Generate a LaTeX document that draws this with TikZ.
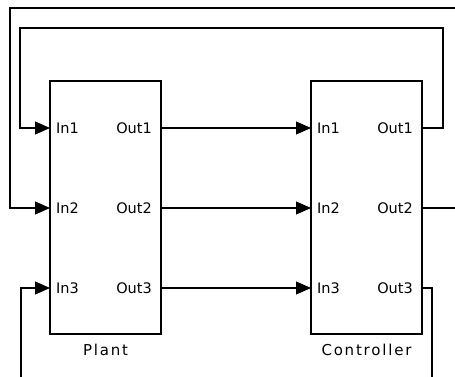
\documentclass[tikz,border=0pt]{standalone}
\usepackage{fontspec}
\setsansfont{DejaVu Sans}
\newfontfamily\portfont{DejaVu Sans}
\newfontfamily\namefont[LetterSpace=12]{DejaVu Sans}
\usetikzlibrary{arrows.meta}

\tikzset{
  block/.style={draw, line width=1.2pt, minimum width=111pt, minimum height=253pt,
    inner sep=0pt, outer sep=0pt},
  port/.style={font=\portfont\fontsize{14.5}{16}\selectfont, inner sep=0pt},
  blockname/.style={font=\namefont\fontsize{15}{17}\selectfont, inner sep=0pt},
  wire/.style={line width=1.1pt},
  signal/.style={wire, -{Triangle[length=15pt,width=13pt]}}
}

\begin{document}
\begin{tikzpicture}[x=1pt,y=-1pt]
  \path[use as bounding box] (0,0) rectangle (455,377);

  % Blocks
  \node[block] (plant) at (105.5,207.5) {};
  \node[block] (ctrl) at (366.5,207.5) {};
  \node[blockname] (plant-name) at (105.5,350) {Plant};
  \node[blockname] (ctrl-name) at (366.5,350) {Controller};

  % Ports
  \foreach \i/\y in {1/128,2/208,3/288}{
    \coordinate (p-in\i) at (plant.west |- 0,\y);
    \coordinate (p-out\i) at (plant.east |- 0,\y);
    \coordinate (c-in\i) at (ctrl.west |- 0,\y);
    \coordinate (c-out\i) at (ctrl.east |- 0,\y);
    \node[port, anchor=west] (p-in\i-lab) at ([xshift=6pt]p-in\i) {In\i};
    \node[port, anchor=east] (p-out\i-lab) at ([xshift=-9pt]p-out\i) {Out\i};
    \node[port, anchor=west] (c-in\i-lab) at ([xshift=6pt]c-in\i) {In\i};
    \node[port, anchor=east] (c-out\i-lab) at ([xshift=-9pt]c-out\i) {Out\i};
    \draw[signal] (p-out\i) -- (c-in\i);
  }

  % Edge points
  \coordinate (edge-top) at (455,8);
  \coordinate (edge-out2) at (455,208);
  \coordinate (edge-out3) at (432,377);
  \coordinate (edge-in3) at (21,377);

  % Feedback
  \draw[signal] (c-out1) -| (443,28) -| (20,128) -- (p-in1);
  \draw[wire] (c-out2) -- (edge-out2);
  \draw[signal] (edge-top) -| (10,208) -- (p-in2);
  \draw[wire] (c-out3) -| (edge-out3);
  \draw[signal] (edge-in3) |- (p-in3);
\end{tikzpicture}
\end{document}
